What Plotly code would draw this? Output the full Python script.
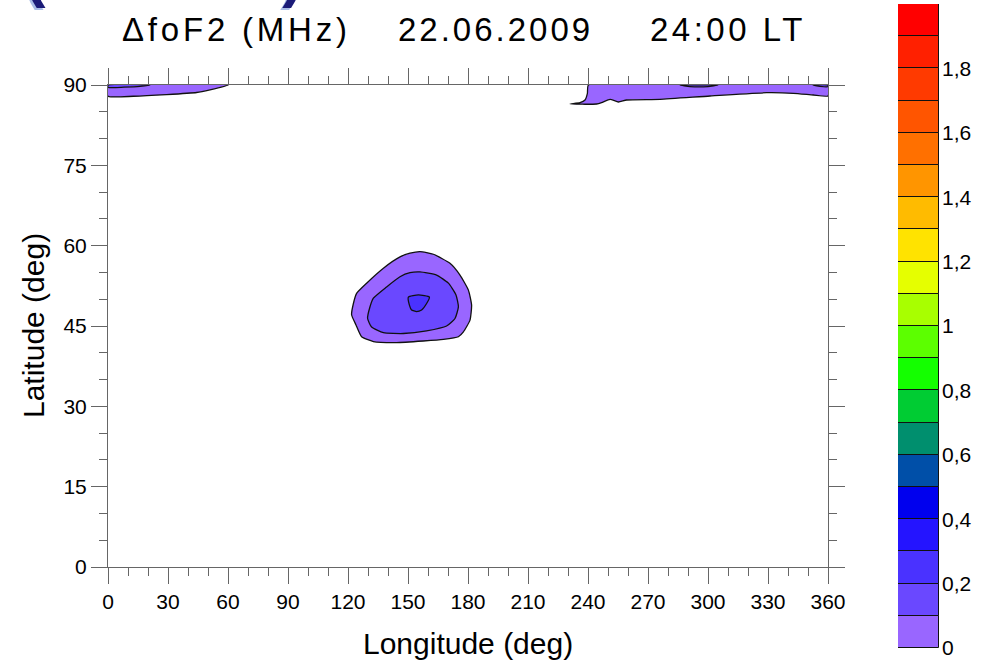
import plotly.graph_objects as go

# ---- data -------------------------------------------------------------
# contour band edges (MHz) and the fill colour of each band
levels = [0.0, 0.1, 0.2, 0.3, 0.4, 0.5, 0.6, 0.7, 0.8, 0.9, 1.0,
          1.1, 1.2, 1.3, 1.4, 1.5, 1.6, 1.7, 1.8, 1.9, 2.0]
band_colors = ["#9966FF", "#6A48FF", "#4A32FF", "#2414FF", "#0000EE",
               "#004FA8", "#008F6E", "#00CC33", "#14FF00", "#5CFF00",
               "#A8FF00", "#E5FF00", "#FFE300", "#FFBB00", "#FF9500",
               "#FF7000", "#FF5500", "#FF3A00", "#FF2000", "#FF0000"]
cbar_tick_vals = [0.0, 0.2, 0.4, 0.6, 0.8, 1.0, 1.2, 1.4, 1.6, 1.8]
cbar_tick_text = ["0", "0,2", "0,4", "0,6", "0,8", "1", "1,2", "1,4", "1,6", "1,8"]

lon_ticks = [0, 30, 60, 90, 120, 150, 180, 210, 240, 270, 300, 330, 360]
lat_ticks = [0, 15, 30, 45, 60, 75, 90]

# mid-latitude enhancement: 0, 0.1 and 0.2 MHz isolines (closed rings)
blob0_lon = [156, 162.7, 171, 176, 180.2, 181.8, 181, 177.7, 175.2, 167.7, 157.7,
             144.3, 132.7, 126.8, 124, 121.8, 122.7, 124.3, 129.3, 137.7, 146,
             151, 156]
blob0_lat = [58.9, 58.4, 56.7, 54.5, 51.7, 48.9, 46.1, 43.9, 43.0, 42.5, 42.2,
             41.9, 42.1, 43.0, 45.2, 47.1, 49.2, 51.1, 53.0, 55.8, 57.9,
             58.6, 58.9]
blob1_lon = [156, 164.3, 170.2, 174, 175.2, 173.5, 169.3, 159.3, 147.7, 137.7,
             131.8, 129.8, 131, 132.7, 139.3, 146, 151, 156]
blob1_lat = [55.1, 54.5, 53.0, 50.8, 48.6, 46.4, 45.0, 44.1, 43.6, 43.75,
             44.8, 46.4, 48.6, 50.2, 52.3, 54.2, 54.95, 55.1]
blob2_lon = [150.2, 155.2, 160.7, 159.3, 156.8, 154.3, 151.8, 150.7, 150.2]
blob2_lat = [50.4, 50.8, 50.4, 49.2, 48.0, 47.7, 48.0, 48.9, 50.4]

# polar-cap strips along 90 deg latitude
west_lon = [0, 0, 12.7, 29.3, 44.3, 51, 60.2, 0]
west_lat = [90, 87.9, 87.9, 88.2, 88.6, 89.1, 90, 90]
west1_lon = [0, 0, 8, 16, 21, 0]
west1_lat = [90, 89.55, 89.6, 89.75, 90, 90]
east_lon = [240.2, 360, 360, 352.7, 342.7, 329.3, 301, 276, 259.3, 255.2,
            251, 246.8, 244.3, 231, 236, 238.5, 239.7, 240.2]
east_lat = [90, 90, 87.95, 88.13, 88.45, 88.56, 87.95, 87.33, 87.2, 86.83,
            87.33, 86.7, 86.45, 86.45, 86.7, 87.2, 88.45, 90]
east1a_lon = [286, 291, 300, 305, 286]
east1a_lat = [90, 89.7, 89.7, 90, 90]
east1b_lon = [352.5, 356, 360, 360, 352.5]
east1b_lat = [90, 89.75, 89.7, 90, 90]

# ---- layout geometry (pixels); the paper spans the whole figure -------
W, H = 996, 662


def fx(px):
    return px / W


def fy(py):
    return (H - py) / H


FONT = "Liberation Sans, Arial, sans-serif"
AXC = "#666666"

fig = go.Figure()


def region(lons, lats, color, smooth=True):
    fig.add_trace(go.Scatter(
        x=lons, y=lats, mode="lines", fill="toself", fillcolor=color,
        line=dict(color="#111111", width=1.3,
                  shape="spline" if smooth else "linear", smoothing=0.5),
        hoverinfo="skip", showlegend=False, xaxis="x", yaxis="y"))


region(west_lon, west_lat, band_colors[0])
region(west1_lon, west1_lat, band_colors[1])
region(east_lon, east_lat, band_colors[0])
region(east1a_lon, east1a_lat, band_colors[1])
region(east1b_lon, east1b_lat, band_colors[1])
region(blob0_lon, blob0_lat, band_colors[0])
region(blob1_lon, blob1_lat, band_colors[1])
region(blob2_lon, blob2_lat, band_colors[2])

# colour scale: one stacked segment per band
fig.add_trace(go.Bar(
    x=[0] * (len(levels) - 1),
    y=[levels[i + 1] - levels[i] for i in range(len(levels) - 1)],
    base=levels[:-1], width=1,
    marker=dict(color=band_colors, line=dict(color="#111111", width=1)),
    hoverinfo="skip", showlegend=False, xaxis="x2", yaxis="y2"))

# lower ends of the brackets of a larger heading cut by the top edge,
# set on an overlay axis pair measured in screen pixels
for dx, dy, col in [(-2, 2, "#a9bde6"), (0, 0, "#1b1b78")]:
    fig.add_trace(go.Scatter(
        x=[35 + dx, 293 + dx], y=[11 + dy, 11 + dy], mode="text",
        text=["(", ")"], textposition="top center", cliponaxis=False,
        textfont=dict(family=FONT, size=64, color=col, weight="bold"),
        hoverinfo="skip", showlegend=False, xaxis="x3", yaxis="y3"))

fig.update_layout(
    width=W, height=H,
    margin=dict(l=0, r=0, t=0, b=0, pad=0, autoexpand=False),
    paper_bgcolor="white", plot_bgcolor="rgba(0,0,0,0)",
    font=dict(family=FONT, color="black", size=21),
    showlegend=False,
    xaxis=dict(domain=[fx(108), fx(828)], range=[0, 360], tickmode="array",
               tickvals=lon_ticks, ticks="outside", ticklen=16, tickwidth=1,
               tickcolor=AXC, showline=True, linecolor=AXC, linewidth=1,
               mirror="ticks", showgrid=False, zeroline=False,
               tickfont=dict(size=21), automargin=False,
               minor=dict(dtick=10, ticks="outside", ticklen=8,
                          tickcolor=AXC, showgrid=False)),
    yaxis=dict(domain=[fy(567), fy(85)], range=[0, 90], tickmode="array",
               tickvals=lat_ticks, ticks="outside", ticklen=16, tickwidth=1,
               tickcolor=AXC, showline=True, linecolor=AXC, linewidth=1,
               mirror="ticks", showgrid=False, zeroline=False,
               tickfont=dict(size=21), automargin=False,
               minor=dict(dtick=5, ticks="outside", ticklen=8,
                          tickcolor=AXC, showgrid=False)),
    xaxis2=dict(domain=[fx(898), fx(939)], range=[-0.5, 0.5], visible=False,
                anchor="y2"),
    yaxis2=dict(domain=[fy(648), fy(4)], range=[0, 2], anchor="x2",
                side="right", tickmode="array", tickvals=cbar_tick_vals,
                ticktext=cbar_tick_text, ticks="", showgrid=False,
                zeroline=False, showline=False, tickfont=dict(size=21),
                ticklabelstandoff=2, automargin=False),
    xaxis3=dict(domain=[0, 1], range=[0, W], visible=False, anchor="y3",
                fixedrange=True),
    yaxis3=dict(domain=[0, 1], range=[H, 0], visible=False, anchor="x3",
                fixedrange=True),
    bargap=0,
)

ann = []
# title, set in a slightly tracked-out face
for txt, px, sp in [("\u0394foF2 (MHz)", 120, 3.8), ("22.06.2009", 396, 3.0),
                    ("24:00 LT", 648, 3.5)]:
    ann.append(dict(text='<span style="letter-spacing:%.1fpx">%s</span>' % (sp, txt),
                    xref="paper", yref="paper", x=fx(px), y=fy(29),
                    xanchor="left", yanchor="middle", showarrow=False,
                    font=dict(family=FONT, size=33, color="black")))
# axis titles
ann.append(dict(text="Longitude (deg)", xref="x", yref="paper", x=180,
                y=fy(643), xanchor="center", yanchor="middle", showarrow=False,
                font=dict(family=FONT, size=30)))
ann.append(dict(text="Latitude (deg)", xref="paper", yref="y", x=fx(33),
                y=45, xanchor="center", yanchor="middle", textangle=-90,
                showarrow=False, font=dict(family=FONT, size=30)))
fig.update_layout(annotations=ann)

fig.write_html("out.html")
